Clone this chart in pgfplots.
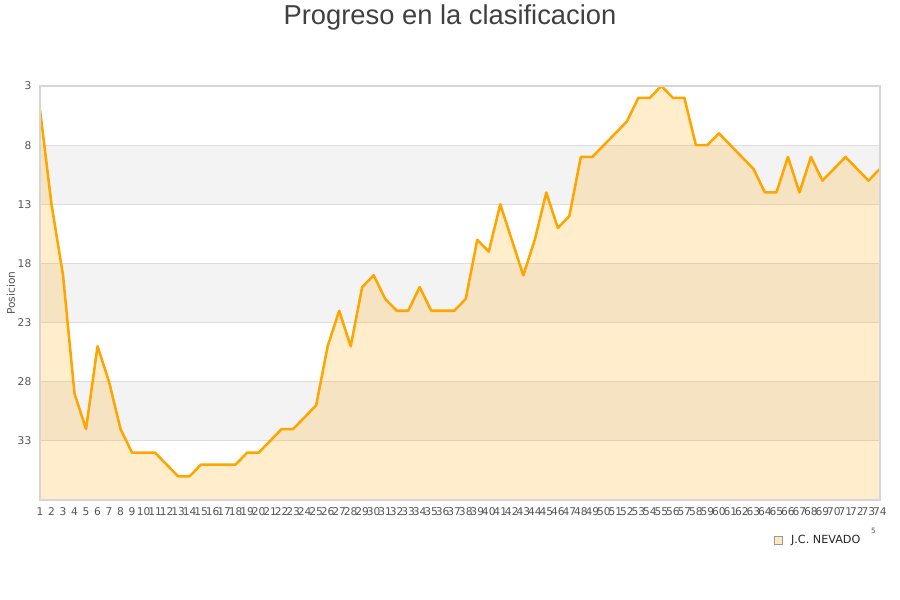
\documentclass[border=0pt]{standalone}
\usepackage{fontspec}
\setmainfont{DejaVu Sans}
\newfontfamily\titlefont{Liberation Sans}
\usepackage{pgfplots}
\usepackage{pgfplotstable}
\pgfplotsset{compat=1.18}

\definecolor{linea}{HTML}{FFA500}
\definecolor{banda}{HTML}{F3F3F3}
\definecolor{rejilla}{HTML}{DDDDDD}
\definecolor{borde}{HTML}{D6D6D6}
\definecolor{texto}{HTML}{555555}
\definecolor{titulo}{HTML}{404040}

% jornada / posicion
\pgfplotstableread{
jornada pos
1 5
2 13
3 19
4 29
5 32
6 25
7 28
8 32
9 34
10 34
11 34
12 35
13 36
14 36
15 35
16 35
17 35
18 35
19 34
20 34
21 33
22 32
23 32
24 31
25 30
26 25
27 22
28 25
29 20
30 19
31 21
32 22
33 22
34 20
35 22
36 22
37 22
38 21
39 16
40 17
41 13
42 16
43 19
44 16
45 12
46 15
47 14
48 9
49 9
50 8
51 7
52 6
53 4
54 4
55 3
56 4
57 4
58 8
59 8
60 7
61 8
62 9
63 10
64 12
65 12
66 9
67 12
68 9
69 11
70 10
71 9
72 10
73 11
74 10
}\datos

\begin{document}
\begin{tikzpicture}
\useasboundingbox (0pt,0pt) rectangle (675pt,450pt);
\node[anchor=base, text=titulo, font=\titlefont\fontsize{20.5}{24}\selectfont]
  at (337.5pt,431.25pt) {Progreso en la clasificacion};
\begin{axis}[
    at={(30pt,75pt)}, anchor=south west,
    scale only axis,
    width=630pt, height=310.5pt,
    xmin=1, xmax=74,
    ymin=3, ymax=38,
    y dir=reverse,
    xtick={1,...,74},
    ytick={3,8,13,18,23,28,33},
    major tick length=0pt,
    axis on top,
    axis line style={borde, line width=0.8pt},
    tick label style={font=\fontsize{8}{9.6}\selectfont, text=texto},
    xticklabel style={yshift=-2.5pt},
    yticklabel style={xshift=-3pt},
    /pgf/number format/assume math mode=true,
    ylabel={Posicion},
    ylabel style={font=\fontsize{8}{9.6}\selectfont, text=texto,
                  at={(axis description cs:0,0.5)}, anchor=center,
                  yshift=21.75pt},
    legend style={at={(0.874,-0.097)}, anchor=west, draw=none, fill=none,
                  inner sep=0pt, font=\fontsize{8.4}{10}\selectfont,
                  text=black!85,
                  /tikz/every odd column/.append style={column sep=4pt}},
    legend cell align=left,
]
% bandas alternas y rejilla
\fill[banda] (axis cs:1,8) rectangle (axis cs:74,13);
\fill[banda] (axis cs:1,18) rectangle (axis cs:74,23);
\fill[banda] (axis cs:1,28) rectangle (axis cs:74,33);
\draw[rejilla, line width=0.6pt] (axis cs:1,8) -- (axis cs:74,8);
\draw[rejilla, line width=0.6pt] (axis cs:1,13) -- (axis cs:74,13);
\draw[rejilla, line width=0.6pt] (axis cs:1,18) -- (axis cs:74,18);
\draw[rejilla, line width=0.6pt] (axis cs:1,23) -- (axis cs:74,23);
\draw[rejilla, line width=0.6pt] (axis cs:1,28) -- (axis cs:74,28);
\draw[rejilla, line width=0.6pt] (axis cs:1,33) -- (axis cs:74,33);

\addplot[fill=linea, fill opacity=0.2, draw=none, forget plot]
  table[x=jornada, y=pos] {\datos}
  -- (axis cs:74,38) -- (axis cs:1,38) -- cycle;

\addplot[linea, line width=1.9pt, line join=round, mark=none, forget plot]
  table[x=jornada, y=pos] {\datos};

\addlegendimage{legend image code/.code={
  \draw[draw=gray!80, fill=linea!25, line width=0.5pt] (0pt,-3pt) rectangle (6pt,3pt);}}
\addlegendentry{J.C. NEVADO}
\end{axis}
\node[font=\fontsize{5.5}{6}\selectfont, text=texto] at (655pt,52pt) {5};
\end{tikzpicture}
\end{document}
